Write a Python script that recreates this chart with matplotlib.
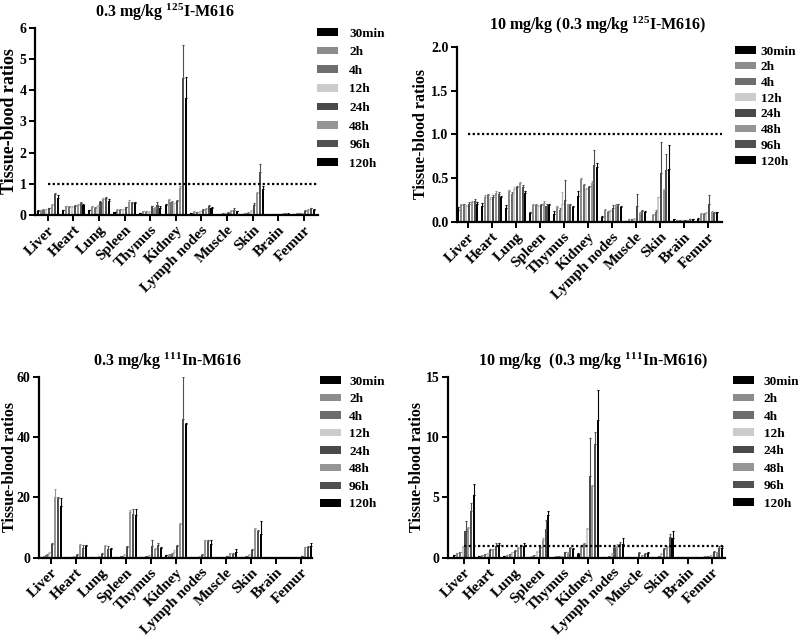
import matplotlib
matplotlib.use("Agg")
import matplotlib.pyplot as plt
from matplotlib.patches import Patch
import matplotlib.transforms as mtransforms
import numpy as np

plt.rcParams['font.family'] = ['Liberation Serif', 'DejaVu Serif']
plt.rcParams['font.weight'] = 'bold'
plt.rcParams['mathtext.fontset'] = 'custom'
plt.rcParams['mathtext.rm'] = 'Liberation Serif:bold'
plt.rcParams['mathtext.bf'] = 'Liberation Serif:bold'
plt.rcParams['mathtext.default'] = 'rm'

organs = ["Liver", "Heart", "Lung", "Spleen", "Thymus", "Kidney",
          "Lymph nodes", "Muscle", "Skin", "Brain", "Femur"]
times = ["30min", "2h", "4h", "12h", "24h", "48h", "96h", "120h"]
colors = ["#000000", "#8c8c8c", "#6e6e6e", "#cccccc",
          "#4a4a4a", "#959595", "#505050", "#000000"]

# 0.3 mg/kg 125I-M616
p1_vals = [
    [0.14, 0.16, 0.17, 0.18, 0.22, 0.33, 0.66, 0.56],
    [0.15, 0.28, 0.26, 0.27, 0.30, 0.33, 0.38, 0.31],
    [0.15, 0.26, 0.24, 0.30, 0.42, 0.52, 0.55, 0.44],
    [0.10, 0.17, 0.17, 0.18, 0.25, 0.43, 0.38, 0.40],
    [0.07, 0.12, 0.10, 0.10, 0.28, 0.23, 0.32, 0.22],
    [0.33, 0.48, 0.43, 0.37, 0.45, 0.88, 4.40, 3.75],
    [0.05, 0.10, 0.09, 0.12, 0.17, 0.20, 0.29, 0.22],
    [0.01, 0.03, 0.05, 0.06, 0.08, 0.12, 0.17, 0.12],
    [0.03, 0.06, 0.08, 0.12, 0.33, 0.70, 1.38, 0.84],
    [0.01, 0.02, 0.03, 0.03, 0.03, 0.04, 0.04, 0.04],
    [0.03, 0.05, 0.06, 0.07, 0.13, 0.16, 0.21, 0.15],
]
p1_err = [
    [0.01, 0.01, 0.02, 0.01, 0.02, 0.03, 0.06, 0.08],
    [0.02, 0.02, 0.02, 0.02, 0.02, 0.03, 0.03, 0.03],
    [0.02, 0.02, 0.02, 0.03, 0.02, 0.04, 0.04, 0.06],
    [0.01, 0.02, 0.01, 0.02, 0.02, 0.05, 0.04, 0.02],
    [0.01, 0.02, 0.02, 0.02, 0.02, 0.04, 0.11, 0.08],
    [0.02, 0.03, 0.03, 0.03, 0.02, 0.05, 1.05, 0.67],
    [0.01, 0.02, 0.01, 0.02, 0.02, 0.02, 0.03, 0.05],
    [0.005, 0.01, 0.01, 0.02, 0.02, 0.03, 0.05, 0.02],
    [0.005, 0.02, 0.02, 0.03, 0.04, 0.03, 0.25, 0.08],
    [0.005, 0.01, 0.01, 0.01, 0.01, 0.01, 0.01, 0.01],
    [0.01, 0.01, 0.01, 0.01, 0.02, 0.02, 0.03, 0.03],
]

# 10 mg/kg (0.3 mg/kg 125I-M616)
p2_vals = [
    [0.14, 0.19, 0.20, 0.18, 0.21, 0.23, 0.24, 0.21],
    [0.18, 0.29, 0.31, 0.26, 0.29, 0.33, 0.32, 0.28],
    [0.16, 0.35, 0.32, 0.38, 0.40, 0.44, 0.40, 0.33],
    [0.10, 0.19, 0.19, 0.18, 0.19, 0.22, 0.18, 0.19],
    [0.09, 0.17, 0.14, 0.20, 0.25, 0.20, 0.19, 0.17],
    [0.30, 0.49, 0.42, 0.38, 0.40, 0.45, 0.65, 0.63],
    [0.06, 0.14, 0.12, 0.13, 0.16, 0.19, 0.20, 0.17],
    [0.01, 0.03, 0.03, 0.03, 0.18, 0.10, 0.13, 0.12],
    [0.01, 0.08, 0.12, 0.28, 0.56, 0.37, 0.59, 0.61],
    [0.03, 0.02, 0.02, 0.02, 0.02, 0.02, 0.03, 0.03],
    [0.04, 0.09, 0.09, 0.10, 0.20, 0.12, 0.10, 0.11],
]
p2_err = [
    [0.03, 0.01, 0.01, 0.01, 0.02, 0.01, 0.02, 0.02],
    [0.04, 0.02, 0.01, 0.02, 0.02, 0.02, 0.02, 0.02],
    [0.03, 0.01, 0.02, 0.02, 0.01, 0.02, 0.02, 0.02],
    [0.01, 0.01, 0.01, 0.01, 0.02, 0.02, 0.02, 0.02],
    [0.04, 0.01, 0.02, 0.14, 0.23, 0.01, 0.02, 0.01],
    [0.05, 0.01, 0.01, 0.01, 0.01, 0.02, 0.17, 0.04],
    [0.01, 0.01, 0.01, 0.01, 0.03, 0.01, 0.01, 0.01],
    [0.005, 0.005, 0.005, 0.02, 0.14, 0.01, 0.01, 0.01],
    [0.005, 0.01, 0.02, 0.01, 0.35, 0.01, 0.19, 0.27],
    [0.005, 0.005, 0.005, 0.005, 0.005, 0.005, 0.005, 0.005],
    [0.01, 0.01, 0.01, 0.01, 0.11, 0.01, 0.01, 0.01],
]

# 0.3 mg/kg 111In-M616
p3_vals = [
    [0.2, 0.4, 1.0, 1.7, 4.6, 20.0, 19.8, 17.0],
    [0.1, 0.15, 0.2, 0.4, 0.9, 4.2, 3.2, 4.0],
    [0.1, 0.15, 0.3, 0.6, 1.3, 3.9, 3.0, 2.8],
    [0.1, 0.2, 0.4, 1.0, 3.5, 15.0, 14.5, 14.0],
    [0.1, 0.2, 0.4, 0.8, 4.0, 3.0, 4.3, 3.3],
    [0.8, 1.0, 1.2, 2.0, 4.0, 11.2, 46.0, 44.3],
    [0.1, 0.1, 0.2, 0.3, 1.0, 5.7, 5.6, 4.4],
    [0.05, 0.05, 0.1, 0.2, 0.5, 1.5, 1.2, 1.8],
    [0.1, 0.2, 0.5, 0.8, 2.5, 9.5, 8.8, 7.8],
    [0.05, 0.05, 0.05, 0.05, 0.05, 0.05, 0.05, 0.05],
    [0.05, 0.05, 0.1, 0.2, 0.5, 3.4, 3.5, 3.8],
]
p3_err = [
    [0.05, 0.1, 0.2, 0.3, 0.3, 2.6, 0.3, 2.8],
    [0.02, 0.03, 0.05, 0.1, 0.2, 0.3, 0.9, 0.2],
    [0.02, 0.03, 0.05, 0.1, 0.2, 0.3, 0.9, 0.3],
    [0.02, 0.05, 0.1, 0.2, 0.3, 0.8, 1.5, 2.2],
    [0.02, 0.05, 0.1, 0.2, 1.8, 0.3, 0.4, 0.3],
    [0.1, 0.1, 0.2, 0.6, 0.3, 0.3, 14.0, 0.3],
    [0.02, 0.02, 0.05, 0.1, 0.1, 0.3, 0.3, 1.5],
    [0.01, 0.01, 0.02, 0.05, 0.1, 0.2, 0.3, 1.2],
    [0.02, 0.05, 0.1, 0.3, 0.3, 0.3, 0.5, 4.2],
    [0.01, 0.01, 0.01, 0.01, 0.01, 0.01, 0.01, 0.01],
    [0.01, 0.01, 0.02, 0.05, 0.1, 0.2, 0.3, 0.9],
]

# 10 mg/kg (0.3 mg/kg 111In-M616)
p4_vals = [
    [0.2, 0.35, 0.45, 0.9, 2.2, 2.45, 3.85, 5.2],
    [0.1, 0.2, 0.3, 0.35, 0.65, 0.7, 1.0, 1.05],
    [0.1, 0.2, 0.3, 0.45, 0.55, 0.8, 0.95, 1.0],
    [0.05, 0.15, 0.2, 0.5, 0.85, 1.5, 2.35, 3.5],
    [0.05, 0.1, 0.1, 0.15, 0.45, 0.4, 0.8, 0.75],
    [0.3, 0.85, 1.1, 2.4, 6.8, 5.9, 9.4, 11.4],
    [0.05, 0.05, 0.1, 0.3, 0.8, 1.0, 1.1, 1.1],
    [0.02, 0.02, 0.05, 0.05, 0.4, 0.2, 0.3, 0.4],
    [0.03, 0.05, 0.1, 0.3, 0.75, 0.9, 1.7, 1.65],
    [0.02, 0.02, 0.02, 0.02, 0.02, 0.02, 0.02, 0.02],
    [0.05, 0.1, 0.15, 0.2, 0.5, 0.45, 0.8, 0.8],
]
p4_err = [
    [0.05, 0.05, 0.05, 0.1, 0.85, 0.1, 0.65, 0.9],
    [0.02, 0.02, 0.03, 0.03, 0.05, 0.05, 0.2, 0.15],
    [0.02, 0.02, 0.03, 0.05, 0.05, 0.1, 0.1, 0.2],
    [0.01, 0.02, 0.03, 0.05, 0.05, 0.1, 0.8, 0.4],
    [0.01, 0.02, 0.02, 0.02, 0.05, 0.05, 0.05, 0.05],
    [0.05, 0.1, 0.1, 0.1, 3.1, 0.1, 1.0, 2.5],
    [0.01, 0.01, 0.02, 0.05, 0.1, 0.1, 0.2, 0.5],
    [0.01, 0.01, 0.01, 0.01, 0.05, 0.05, 0.05, 0.05],
    [0.01, 0.01, 0.02, 0.05, 0.05, 0.1, 0.3, 0.55],
    [0.005, 0.005, 0.005, 0.005, 0.005, 0.005, 0.005, 0.005],
    [0.01, 0.02, 0.02, 0.03, 0.05, 0.05, 0.2, 0.2],
]

panels = [
    dict(vals=p1_vals, err=p1_err, rect=[0.04375, 0.6656, 0.354, 0.2914],
         ylim=6, yticks=[0, 1, 2, 3, 4, 5, 6], fmt="{:.0f}", xlim=(-0.5, 10.56),
         title=r"0.3 mg/kg $^{125}$I-M616", tpos=(0.206, 0.981), ref=True,
         ylab_x=0.012, ylab_size=13, leg=(0.396, 0.957), lsp=0.5, htp=0.85),
    dict(vals=p2_vals, err=p2_err, rect=[0.571, 0.6547, 0.3315, 0.2727],
         ylim=2.0, yticks=[0, 0.5, 1.0, 1.5, 2.0], fmt="{:.1f}", xlim=(-0.46, 10.6),
         title=r"10 mg/kg (0.3 mg/kg $^{125}$I-M616)", tpos=(0.747, 0.961), ref=True,
         ylab_x=0.526, ylab_size=11.5, leg=(0.919, 0.929), lsp=0.28, htp=0.35),
    dict(vals=p3_vals, err=p3_err, rect=[0.04875, 0.1327, 0.34125, 0.2815],
         ylim=60, yticks=[0, 20, 40, 60], fmt="{:.0f}", xlim=(-0.47, 10.45),
         title=r"0.3 mg/kg $^{111}$In-M616", tpos=(0.209, 0.4375), ref=False,
         ylab_x=0.012, ylab_size=11.5, leg=(0.4, 0.4157), lsp=0.42, htp=0.6),
    dict(vals=p4_vals, err=p4_err, rect=[0.56, 0.1327, 0.346, 0.2815],
         ylim=15, yticks=[0, 5, 10, 15], fmt="{:.0f}", xlim=(-0.65, 10.5),
         title=r"10 mg/kg  (0.3 mg/kg $^{111}$In-M616)", tpos=(0.741, 0.4375), ref=True,
         ylab_x=0.521, ylab_size=11.5, leg=(0.916, 0.4157), lsp=0.41, htp=0.75),
]

fig = plt.figure(figsize=(8, 6.43), dpi=100)

x = np.arange(len(organs))
group_w = 0.9
bw = group_w / len(times)
shift = mtransforms.ScaledTranslation(4 / 72, -4 / 72, fig.dpi_scale_trans)

for p in panels:
    ax = fig.add_axes(p["rect"])
    vals = np.array(p["vals"])
    err = np.array(p["err"])
    for j, t in enumerate(times):
        xs = x + (j - 3.5) * bw
        ax.bar(xs, vals[:, j], width=bw * 0.75, color=colors[j], linewidth=0)
        ax.errorbar(xs, vals[:, j], yerr=[np.zeros(len(organs)), err[:, j]],
                    fmt="none", ecolor=colors[j] if j != 3 else "#b0b0b0",
                    elinewidth=0.8, capsize=1.0, capthick=0.8)
    if p["ref"]:
        ax.hlines(1, x[0], p["xlim"][1], colors="black", linestyles=(0, (1, 1.1)),
                  linewidth=1.6)
    ax.set_xlim(*p["xlim"])
    ax.set_ylim(0, p["ylim"])
    ax.set_yticks(p["yticks"])
    ax.set_yticklabels([p["fmt"].format(v) for v in p["yticks"]], fontsize=10)
    ax.set_xticks(x)
    ax.set_xticklabels(organs, rotation=45, ha="right", va="top",
                       rotation_mode="anchor", fontsize=11)
    for lab in ax.get_xticklabels():
        lab.set_transform(lab.get_transform() + shift)
    for s in ["top", "right"]:
        ax.spines[s].set_visible(False)
    for s in ["left", "bottom"]:
        ax.spines[s].set_linewidth(1.6)
    ax.tick_params(direction="out", length=4, width=1.4, pad=2)
    fig.text(p["ylab_x"], p["rect"][1] + p["rect"][3] / 2, "Tissue-blood ratios",
             rotation=90, ha="center", va="center", fontsize=p["ylab_size"],
             fontweight="bold")
    fig.text(p["tpos"][0], p["tpos"][1], p["title"], ha="center", va="center",
             fontsize=11.5, fontweight="bold")
    handles = [Patch(facecolor=c, edgecolor="none") for c in colors]
    ax.legend(handles, times, loc="upper left", bbox_to_anchor=p["leg"],
              bbox_transform=fig.transFigure, frameon=False, borderpad=0,
              borderaxespad=0, handlelength=1.6, handleheight=0.5,
              handletextpad=p["htp"], labelspacing=p["lsp"],
              prop={"size": 9.5, "weight": "bold"})

fig.savefig("out.png", dpi=100)
